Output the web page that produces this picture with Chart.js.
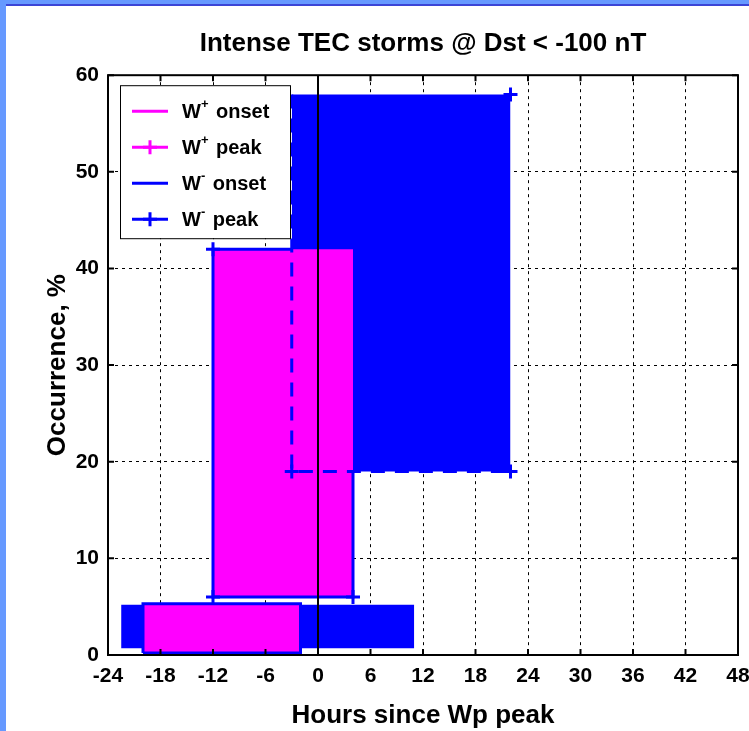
<!DOCTYPE html>
<html>
<head>
    <title>Intense TEC storms</title>
    <script src="https://cdn.jsdelivr.net/npm/chart.js"></script>
    <style>
        body {
            margin: 0;
            background: #6699ff;
        }
        #panel {
            position: absolute;
            left: 6px;
            top: 4px;
            right: 0;
            bottom: 0;
            background: #ffffff;
            border-top: 2px solid #3b45d6;
        }
        #wrap {
            position: absolute;
            left: 0;
            top: 0;
        }
    </style>
</head>
<body>
    <div id="panel"></div>
    <div id="wrap"><canvas id="myChart" width="749" height="731"></canvas></div>

    <script>
        // axis ticks
        const xTicks = [-24, -18, -12, -6, 0, 6, 12, 18, 24, 30, 36, 42, 48];
        const yTicks = [0, 10, 20, 30, 40, 50, 60];

        // ranges: [start, end] hours and [low, high] percent
        const wMinusOnsetHours = [-22.5, 11];
        const wMinusOnsetPct = [0.7, 5.2];
        const wPlusOnsetHours = [-20, -2];
        const wPlusOnsetPct = [0.2, 5.3];
        const wMinusPeakHours = [-3, 22];
        const wMinusPeakPct = [19, 58];
        const wPlusPeakHours = [-12, 4];
        const wPlusPeakPct = [6, 42];

        const legendSigns = ['+', '+', '-', '-'];
        const legendKinds = ['onset', 'peak', 'onset', 'peak'];

        const BLUE = '#0000ff';
        const MAGENTA = '#ff00ff';
        const FONT = "'Liberation Sans', Arial, sans-serif";
        const MARK = {pointStyle: 'cross', radius: 7, borderWidth: 3};

        function rect(label, hours, pct, color, order) {
            return {
                label: label,
                data: [{x: hours[0], y: pct[1]}, {x: hours[1], y: pct[1]}],
                showLine: true,
                fill: {value: pct[0]},
                backgroundColor: color,
                borderColor: color,
                borderWidth: 0,
                pointRadius: 0,
                order: order
            };
        }

        function outline(label, pts, dash, radii, order) {
            return {
                label: label,
                data: pts,
                showLine: true,
                fill: false,
                borderColor: BLUE,
                backgroundColor: BLUE,
                borderWidth: 3,
                borderDash: dash,
                pointStyle: MARK.pointStyle,
                pointRadius: radii,
                pointBorderColor: BLUE,
                pointBorderWidth: MARK.borderWidth,
                order: order
            };
        }

        const peakTop = rect('W- peak', wMinusPeakHours, wMinusPeakPct, BLUE, 9);
        peakTop.pointStyle = MARK.pointStyle;
        peakTop.pointRadius = [0, MARK.radius];
        peakTop.pointBorderColor = BLUE;
        peakTop.pointBorderWidth = MARK.borderWidth;

        const r = MARK.radius;
        const datasets = [
            peakTop,
            rect('W+ peak', wPlusPeakHours, wPlusPeakPct, MAGENTA, 8),
            rect('W- onset', wMinusOnsetHours, wMinusOnsetPct, BLUE, 7),
            rect('W+ onset', wPlusOnsetHours, wPlusOnsetPct, MAGENTA, 6),
            outline('W+ peak edge', [
                {x: wMinusPeakHours[0], y: wPlusPeakPct[1]},
                {x: wPlusPeakHours[0], y: wPlusPeakPct[1]},
                {x: wPlusPeakHours[0], y: wPlusPeakPct[0]},
                {x: wPlusPeakHours[1], y: wPlusPeakPct[0]},
                {x: wPlusPeakHours[1], y: wMinusPeakPct[0]}
            ], [], [0, r, r, r, 0], 5),
            outline('W- peak edge', [
                {x: wMinusPeakHours[0], y: wMinusPeakPct[1]},
                {x: wMinusPeakHours[0], y: wMinusPeakPct[0]},
                {x: wMinusPeakHours[1], y: wMinusPeakPct[0]}
            ], [14, 10], [0, r, r], 4),
            outline('W+ onset edge', [
                {x: wPlusOnsetHours[0], y: wPlusOnsetPct[0]},
                {x: wPlusOnsetHours[0], y: wPlusOnsetPct[1]},
                {x: wPlusOnsetHours[1], y: wPlusOnsetPct[1]},
                {x: wPlusOnsetHours[1], y: wPlusOnsetPct[0]},
                {x: wPlusOnsetHours[0], y: wPlusOnsetPct[0]}
            ], [], 0, 3)
        ];

        // frame, zero line, inward ticks and the boxed legend (MATLAB look)
        const framePlugin = {
            id: 'frame',
            afterLayout(chart) {
                // center the title over the plot box, not the canvas
                chart.titleBlock.left = chart.chartArea.left;
                chart.titleBlock.right = chart.chartArea.right;
                chart.titleBlock.width = chart.chartArea.right - chart.chartArea.left;
            },
            afterDraw(chart) {
                const c = chart.ctx;
                const a = chart.chartArea;
                const xs = chart.scales.x;
                const ys = chart.scales.y;
                c.save();
                c.strokeStyle = '#000';
                c.setLineDash([]);
                c.lineWidth = 2;
                const x0 = xs.getPixelForValue(0);
                c.beginPath();
                c.moveTo(x0, a.top);
                c.lineTo(x0, a.bottom);
                c.stroke();
                c.beginPath();
                xTicks.forEach(v => {
                    const px = xs.getPixelForValue(v);
                    c.moveTo(px, a.top); c.lineTo(px, a.top + 6);
                    c.moveTo(px, a.bottom); c.lineTo(px, a.bottom - 6);
                });
                yTicks.forEach(v => {
                    const py = ys.getPixelForValue(v);
                    c.moveTo(a.left, py); c.lineTo(a.left + 6, py);
                    c.moveTo(a.right, py); c.lineTo(a.right - 6, py);
                });
                c.stroke();
                c.strokeRect(a.left, a.top, a.right - a.left, a.bottom - a.top);

                // legend
                const bx = a.left + 12, by = a.top + 10, bw = 170, bh = 153;
                c.fillStyle = '#fff';
                c.fillRect(bx, by, bw, bh);
                c.lineWidth = 1;
                c.strokeStyle = '#000';
                c.strokeRect(bx + 0.5, by + 0.5, bw, bh);
                legendKinds.forEach((kind, i) => {
                    const color = legendSigns[i] === '+' ? MAGENTA : BLUE;
                    const y = by + 26 + i * 36;
                    c.strokeStyle = color;
                    c.fillStyle = color;
                    c.lineWidth = 3;
                    c.beginPath();
                    c.moveTo(bx + 12, y);
                    c.lineTo(bx + 48, y);
                    c.stroke();
                    if (kind === 'peak') {
                        Chart.helpers.drawPoint(c, MARK, bx + 30, y);
                    }
                    c.fillStyle = '#000';
                    c.textBaseline = 'middle';
                    c.textAlign = 'left';
                    c.font = 'bold 20px ' + FONT;
                    let tx = bx + 62;
                    c.fillText('W', tx, y + 1);
                    tx += c.measureText('W').width;
                    c.font = 'bold 13px ' + FONT;
                    c.fillText(legendSigns[i], tx, y - 7);
                    tx += c.measureText(legendSigns[i]).width + 2;
                    c.font = 'bold 20px ' + FONT;
                    c.fillText(' ' + kind, tx, y + 1);
                });
                c.restore();
            }
        };

        const tickFont = {family: FONT, size: 21, weight: 'bold'};

        new Chart(document.getElementById('myChart').getContext('2d'), {
            type: 'scatter',
            data: {datasets: datasets},
            plugins: [framePlugin],
            options: {
                responsive: false,
                animation: false,
                layout: {padding: {left: 0, right: 0, top: 0, bottom: 0}},
                plugins: {
                    legend: {display: false},
                    tooltip: {enabled: false},
                    title: {
                        display: true,
                        text: 'Intense TEC storms @ Dst < -100 nT',
                        color: '#000',
                        font: {family: FONT, size: 26, weight: 'bold'},
                        padding: {top: 28, bottom: 16}
                    }
                },
                scales: {
                    x: {
                        type: 'linear',
                        min: xTicks[0],
                        max: xTicks[xTicks.length - 1],
                        z: 1,
                        afterBuildTicks: s => { s.ticks = xTicks.map(v => ({value: v})); },
                        afterFit: s => { s.height = 76; s.paddingRight = 11; },
                        ticks: {color: '#000', font: tickFont, padding: 9, maxRotation: 0, autoSkip: false},
                        grid: {color: '#000', lineWidth: 1, drawTicks: false},
                        border: {display: false, dash: [3, 4]},
                        title: {
                            display: true,
                            text: 'Hours since Wp peak',
                            color: '#000',
                            font: {family: FONT, size: 26, weight: 'bold'},
                            padding: {top: 0, bottom: 0}
                        }
                    },
                    y: {
                        type: 'linear',
                        min: yTicks[0],
                        max: yTicks[yTicks.length - 1],
                        z: 1,
                        afterBuildTicks: s => { s.ticks = yTicks.map(v => ({value: v})); },
                        afterFit: s => { s.width = 108; },
                        ticks: {color: '#000', font: tickFont, padding: 9},
                        grid: {color: '#000', lineWidth: 1, drawTicks: false},
                        border: {display: false, dash: [3, 4]},
                        title: {
                            display: true,
                            text: 'Occurrence, %',
                            color: '#000',
                            font: {family: FONT, size: 26, weight: 'bold'},
                            padding: {top: 42, bottom: 0}
                        }
                    }
                }
            }
        });
    </script>
</body>
</html>
